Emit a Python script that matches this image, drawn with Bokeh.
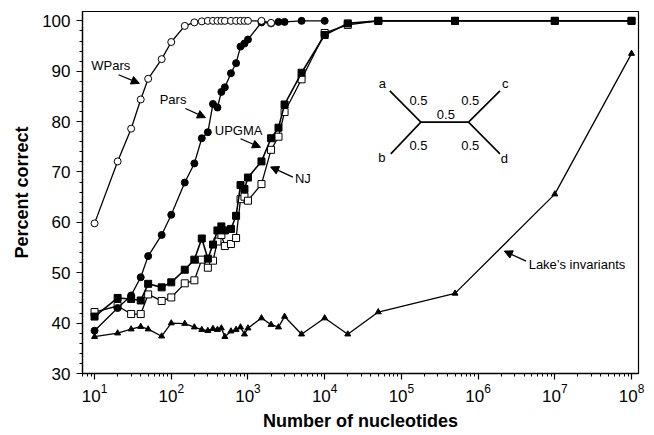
from bokeh.plotting import figure
from bokeh.models import FixedTicker, LogTickFormatter, Label, Arrow, NormalHead
from bokeh.embed import file_html
from bokeh.resources import INLINE

# ---------------- data ----------------
n_nuc = [10, 20, 30, 40, 50, 75, 100, 150, 200, 250, 300, 350, 400, 450, 500,
         600, 700, 800, 900, 1000, 1500, 2000, 2500, 3000, 5000, 10000,
         20000, 50000, 500000, 1e7, 1e8]

wpars_x = n_nuc[:22]
wpars_y = [59.8, 72.1, 78.6, 84.4, 88.5, 92.4, 95.8, 99.0, 99.7, 99.9, 100, 100,
           100, 100, 100, 100, 100, 100, 100, 100, 100, 99.6]

pars_x = n_nuc[:26]
pars_y = [38.5, 43.0, 45.5, 49.1, 53.3, 57.5, 61.5, 67.9, 71.7, 76.7, 77.9, 83.5,
          82.8, 85.9, 86.8, 89.6, 91.6, 94.9, 95.5, 96.3, 99.7, 99.5, 99.8, 99.8,
          100, 100]

upgma_y = [41.3, 45.0, 44.8, 44.5, 47.8, 47.1, 48.1, 50.6, 52.6, 56.8, 52.8, 55.6,
           58.4, 59.2, 58.4, 58.7, 61.3, 67.4, 66.6, 68.9, 72.1, 76.7, 78.8, 83.4,
           89.7, 97.2, 99.5, 100, 100, 100, 100]

nj_y = [42.2, 43.4, 41.8, 41.8, 45.7, 44.4, 45.1, 47.9, 48.5, 52.6, 51.0, 52.4,
        56.2, 57.5, 55.3, 55.7, 56.9, 64.6, 65.1, 64.3, 67.6, 74.4, 77.0, 81.9,
        88.4, 97.6, 99.2, 100, 100, 100, 100]

lake_y = [37.3, 38.0, 38.8, 39.3, 38.8, 37.4, 40.0, 39.9, 39.2, 38.7, 38.5, 38.9,
          38.7, 39.0, 37.3, 38.4, 38.7, 39.2, 37.8, 39.0, 41.0, 39.7, 39.2, 41.3,
          37.8, 41.0, 37.8, 42.2, 45.9, 65.6, 93.5]

x_major = [10 ** k for k in range(1, 9)]
x_minor = [m * 10 ** k for k in range(0, 9) for m in range(2, 10)]
y_major = list(range(30, 101, 10))
y_minor = list(range(30, 101, 2))

FONT = "Liberation Sans"

# ---------------- figure ----------------
p = figure(width=646, height=433, x_axis_type="log",
           x_range=(10 ** 0.843, 10 ** 8.091), y_range=(30, 101.86),
           output_backend="svg", toolbar_location=None,
           min_border_left=82, min_border_right=8, min_border_top=11,
           min_border_bottom=55)
p.grid.visible = False
p.outline_line_color = "black"
p.outline_line_width = 1.2
p.background_fill_color = "white"
p.border_fill_color = "white"

p.xaxis.ticker = FixedTicker(ticks=x_major, minor_ticks=x_minor)
p.xaxis.formatter = LogTickFormatter()
p.yaxis.ticker = FixedTicker(ticks=y_major, minor_ticks=y_minor)

for ax in (p.xaxis, p.yaxis):
    ax.axis_line_color = "black"
    ax.axis_line_width = 1.3
    ax.major_tick_line_color = "black"
    ax.minor_tick_line_color = "black"
    ax.major_tick_line_width = 1.2
    ax.minor_tick_line_width = 1
    ax.major_tick_in = 0
    ax.major_tick_out = 6
    ax.minor_tick_in = 0
    ax.minor_tick_out = 3
    ax.major_label_text_font = FONT
    ax.major_label_text_font_size = "17px"
    ax.major_label_text_color = "black"
    ax.axis_label_text_font = FONT
    ax.axis_label_text_font_style = "bold"
    ax.axis_label_text_font_size = "18px"
    ax.axis_label_text_color = "black"

p.xaxis.axis_label = "Number of nucleotides"
p.yaxis.axis_label = "Percent correct"
p.xaxis.major_label_standoff = 4
p.xaxis.axis_label_standoff = 6
p.yaxis.major_label_standoff = 6
p.yaxis.axis_label_standoff = 7

LW = 1.3
# Lake's invariants
p.line(n_nuc, lake_y, line_color="black", line_width=LW)
p.scatter(n_nuc, lake_y, marker="triangle", size=6, fill_color="black", line_color="black")
# NJ
p.line(n_nuc, nj_y, line_color="black", line_width=LW)
p.scatter(n_nuc, nj_y, marker="square", size=7, fill_color="white", line_color="black", line_width=1)
# UPGMA
p.line(n_nuc, upgma_y, line_color="black", line_width=LW + 0.3)
p.scatter(n_nuc, upgma_y, marker="square", size=7, fill_color="black", line_color="black")
# Pars
p.line(pars_x, pars_y, line_color="black", line_width=LW)
p.scatter(pars_x, pars_y, marker="circle", size=7, fill_color="black", line_color="black")
# WPars
p.line(wpars_x, wpars_y, line_color="black", line_width=LW)
p.scatter(wpars_x, wpars_y, marker="circle", size=7, fill_color="white", line_color="black", line_width=1)

# ---------------- annotations ----------------
def lbl(x, y, text, align="left", size="13px"):
    p.add_layout(Label(x=x, y=y, text=text, text_font=FONT, text_font_size=size,
                       text_align=align, text_baseline="middle", text_color="black"))

def arr(x0, y0, x1, y1):
    p.add_layout(Arrow(end=NormalHead(size=8, fill_color="black", line_color="black", line_width=1),
                       x_start=x0, y_start=y0, x_end=x1, y_end=y1,
                       line_color="black", line_width=1.3))

lbl(10 ** 0.957, 91.07, "WPars")
arr(10 ** 1.313, 89.3, 10 ** 1.584, 87.6)
lbl(10 ** 1.849, 84.4, "Pars")
arr(10 ** 2.185, 82.6, 10 ** 2.446, 80.8)
lbl(10 ** 2.567, 78.15, "UPGMA")
arr(10 ** 2.903, 76.6, 10 ** 3.164, 74.9)
lbl(10 ** 3.612, 68.8, "NJ")
arr(10 ** 3.586, 69.0, 10 ** 3.295, 71.0)
lbl(10 ** 6.659, 51.7, "Lake\u2019s invariants")
arr(10 ** 6.625, 52.3, 10 ** 6.342, 54.3)

# tree inset (a,b | c,d)
node_l, node_r = 10 ** 5.254, 10 ** 5.875
tip_a, tip_b, tip_cd = 10 ** 4.849, 10 ** 4.862, 10 ** 6.285
y_mid, y_top, y_bot = 79.9, 86.1, 73.6
p.segment(x0=[tip_a, tip_b, node_l, node_r, node_r],
          y0=[y_top, y_bot, y_mid, y_mid, y_mid],
          x1=[node_l, node_l, node_r, tip_cd, tip_cd],
          y1=[y_mid, y_mid, y_mid, y_top, y_bot],
          line_color="black", line_width=1.6)
lbl(10 ** 4.752, 87.6, "a", align="center")
lbl(10 ** 4.744, 72.8, "b", align="center")
lbl(10 ** 6.355, 87.6, "c", align="center")
lbl(10 ** 6.342, 72.6, "d", align="center")
for tx, ty in [(5.222, 84.1), (5.897, 84.1), (5.580, 81.5), (5.222, 75.2), (5.897, 75.2)]:
    lbl(10 ** tx, ty, "0.5", align="center")

open("out.html", "w").write(file_html(p, INLINE))
